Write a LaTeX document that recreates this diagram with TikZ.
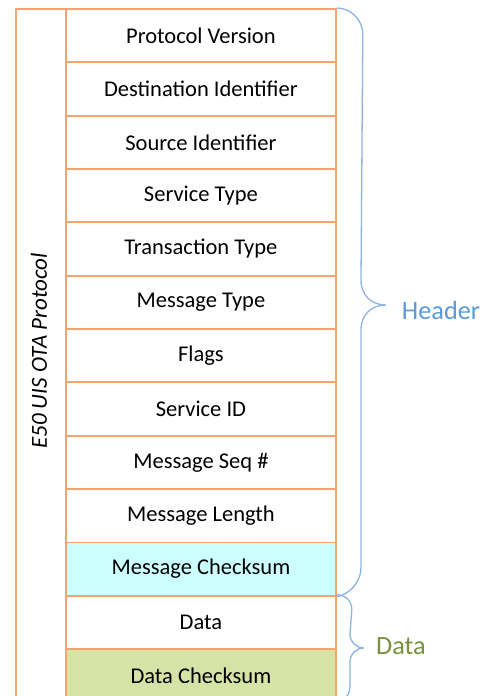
\documentclass[tikz,border=0pt]{standalone}
\usepackage{fontspec}
\setmainfont{Carlito}
\usetikzlibrary{calc}
\definecolor{boxline}{HTML}{F5A470}
\definecolor{bracecol}{HTML}{8DB4E2}
\definecolor{headcol}{HTML}{5B9BD5}
\definecolor{datacol}{HTML}{76923C}
\definecolor{cyanfill}{HTML}{CCFFFF}
\definecolor{greenfill}{HTML}{D6E2A6}
\begin{document}
\begin{tikzpicture}[x=1pt,y=-1pt,
  row/.style={draw=boxline,line width=1.8pt,minimum width=270pt,minimum height=53.35pt,inner sep=0pt,font=\fontsize{22.5}{26}\selectfont,anchor=north west},
  sidecol/.style={draw=boxline,line width=1.8pt,minimum width=50pt,minimum height=693pt,inner sep=0pt,anchor=north west},
  bracestyle/.style={draw=bracecol,line width=1.3pt},
  lbl/.style={font=\fontsize{26.3}{30}\selectfont}]
\useasboundingbox (0,0) rectangle (487,696);
\fill[white] (0,0) rectangle (487,696);
\node[sidecol] (side) at (15,8) {};
\node[rotate=90,font=\itshape\fontsize{23}{26}\selectfont] (sidelbl) at (39,351) {E50 UIS OTA Protocol};
\node[row] (r0) at (65,8) {Protocol Version};
\node[row] (r1) at (65,61.35) {Destination Identifier};
\node[row] (r2) at (65,114.7) {Source Identifier};
\node[row] (r3) at (65,168.05) {Service Type};
\node[row] (r4) at (65,221.4) {Transaction Type};
\node[row] (r5) at (65,274.75) {Message Type};
\node[row] (r6) at (65,328.1) {Flags};
\node[row] (r7) at (65,381.45) {Service ID};
\node[row] (r8) at (65,434.8) {Message Seq \#};
\node[row] (r9) at (65,488.15) {Message Length};
\node[row,fill=cyanfill] (r10) at (65,541.5) {Message Checksum};
\node[row] (r11) at (65,594.85) {Data};
\node[row,fill=greenfill] (r12) at (65,648.2) {Data Checksum};
% header brace
\draw[bracestyle] (r0.north east) .. controls +(14,0) and +(0,-14) .. ++(26,26)
  -- (361,280) .. controls (361,296) and (372,305) .. (386,305)
  .. controls (372,305) and (361,314) .. (361,330)
  -- (361,568) .. controls (361,582) and (349,594.85) .. (r10.south east);
% data brace
\draw[bracestyle] (r11.north east) .. controls +(9,0) and +(0,-9) .. ++(15,15)
  -- (350,634) .. controls (350,642) and (356,648) .. (364,648)
  .. controls (356,648) and (350,654) .. (350,662)
  -- (350,686) .. controls (350,695) and (344,701.5) .. (r12.south east);
\node[lbl,text=headcol] (head) at (441,310) {Header};
\node[lbl,text=datacol] (data) at (401,646) {Data};
\end{tikzpicture}
\end{document}
